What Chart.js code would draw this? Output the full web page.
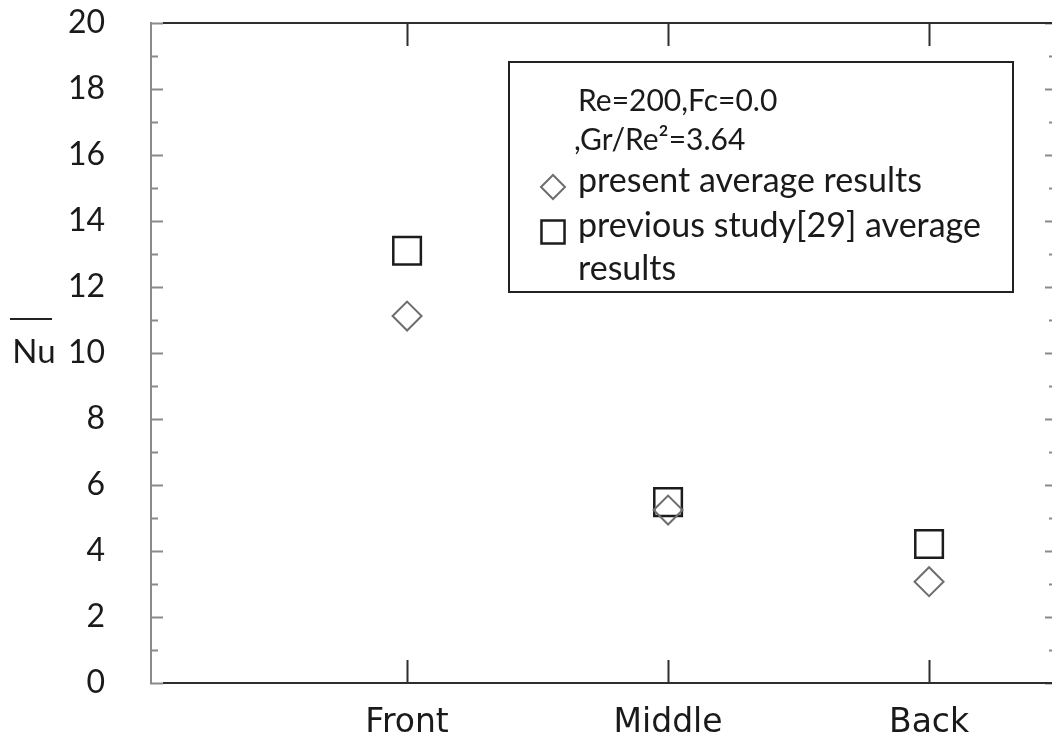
<!DOCTYPE html>
<html lang="en">
<head>
  <meta charset="UTF-8" />
  <title>Average Nu</title>
  <style>
    html, body { margin: 0; padding: 0; background: #fff; overflow: hidden; }
    #wrap { width: 1052px; height: 740px; position: relative; }
  </style>
</head>
<body>
  <div id="wrap"><canvas id="chart"></canvas></div>

  <script src="https://cdn.jsdelivr.net/npm/chart.js"></script>
  <script>
    const categories = ['Front', 'Middle', 'Back'];
    const presentAvg = [11.12, 5.24, 3.07];
    const previousAvg = [13.1, 5.48, 4.21];
    const yTicks = [0, 2, 4, 6, 8, 10, 12, 14, 16, 18, 20];
    const legendTitle = ['Re=200,Fc=0.0', ',Gr/Re\u00b2=3.64'];
    const presentLabel = ['present average results'];
    const previousLabel = ['previous study[29] average', 'results'];
    const yTitle = 'Nu';

    const textColor = '#1a1a1a';
    const calibriLike = "Lato, 'Open Sans', sans-serif";

    const toPoints = vals => vals.map((v, i) => ({ x: i + 1, y: v }));

    // axes box, inward ticks, y title with overbar
    const frame = {
      id: 'frame',
      beforeDatasetsDraw(chart) {
        const { ctx, chartArea: a, scales: { x, y } } = chart;
        ctx.save();
        ctx.lineCap = 'butt';

        ctx.strokeStyle = '#8a8a8a';
        ctx.lineWidth = 2;
        ctx.beginPath();
        ctx.moveTo(a.left + 1, a.top - 1);
        ctx.lineTo(a.left + 1, a.bottom + 1);
        for (let v = 0; v <= 20; v++) {
          const py = Math.round(y.getPixelForValue(v)) + 0.5;
          const major = v % 2 === 0;
          ctx.moveTo(a.left, py);
          ctx.lineTo(a.left + (major ? 13 : 8), py);
          ctx.moveTo(a.right, py);
          ctx.lineTo(a.right - (major ? 7 : 3), py);
        }
        ctx.stroke();

        ctx.strokeStyle = '#2e2e2e';
        ctx.beginPath();
        ctx.moveTo(a.left + 13, a.top);
        ctx.lineTo(a.right, a.top);
        ctx.moveTo(a.left + 13, a.bottom);
        ctx.lineTo(a.right, a.bottom);
        categories.forEach((c, i) => {
          const px = Math.round(x.getPixelForValue(i + 1)) + 0.5;
          ctx.moveTo(px, a.top);
          ctx.lineTo(px, a.top + 23);
          ctx.moveTo(px, a.bottom);
          ctx.lineTo(px, a.bottom - 23);
        });
        ctx.stroke();

        // y title, Nu with an overbar
        ctx.fillStyle = textColor;
        ctx.font = "33px " + calibriLike;
        ctx.textAlign = 'center';
        ctx.textBaseline = 'alphabetic';
        ctx.fillText(yTitle, 34, 363);
        ctx.strokeStyle = '#222';
        ctx.lineWidth = 2;
        ctx.beginPath();
        ctx.moveTo(10, 319);
        ctx.lineTo(52, 319);
        ctx.stroke();
        ctx.restore();
      }
    };

    // boxed legend inside the plot
    const boxLegend = {
      id: 'boxLegend',
      afterDatasetsDraw(chart) {
        const { ctx, chartArea: a } = chart;
        const bx = a.left + 359, by = a.top + 39, bw = 504, bh = 230;
        ctx.save();
        ctx.fillStyle = '#fff';
        ctx.fillRect(bx, by, bw, bh);
        ctx.strokeStyle = '#222';
        ctx.lineWidth = 2;
        ctx.strokeRect(bx, by, bw, bh);

        ctx.fillStyle = textColor;
        ctx.textAlign = 'left';
        ctx.textBaseline = 'alphabetic';
        const tx = bx + 69;
        ctx.font = "30px " + calibriLike;
        ctx.fillText(legendTitle[0], tx, by + 49);
        ctx.fillText(legendTitle[1], tx - 4, by + 88);
        ctx.font = "34px " + calibriLike;
        ctx.fillText(presentLabel[0], tx, by + 130);
        ctx.fillText(previousLabel[0], tx, by + 175);
        ctx.fillText(previousLabel[1], tx, by + 218);

        const ds = chart.data.datasets;
        [[ds[0], 12, 125], [ds[1], 16.3, 170]].forEach(([d, r, dy]) => {
          ctx.fillStyle = '#fff';
          ctx.strokeStyle = d.borderColor;
          ctx.lineWidth = d.borderWidth;
          Chart.helpers.drawPoint(ctx, { pointStyle: d.pointStyle, radius: r, rotation: 0, borderWidth: d.borderWidth }, bx + 44, by + dy);
        });
        ctx.restore();
      }
    };

    const ctx = document.getElementById('chart').getContext('2d');

    new Chart(ctx, {
      type: 'scatter',
      data: {
        datasets: [
          {
            label: presentLabel.join(' '),
            data: toPoints(presentAvg),
            pointStyle: 'rectRot',
            pointRadius: 14.5,
            borderColor: '#6e6e6e',
            backgroundColor: 'rgba(0,0,0,0)',
            borderWidth: 2
          },
          {
            label: previousLabel.join(' '),
            data: toPoints(previousAvg),
            pointStyle: 'rect',
            pointRadius: 19.5,
            borderColor: '#1c1c1c',
            backgroundColor: 'rgba(0,0,0,0)',
            borderWidth: 2.5
          }
        ]
      },
      options: {
        responsive: true,
        maintainAspectRatio: false,
        animation: false,
        layout: { autoPadding: false, padding: { top: 23, right: 0, left: 0, bottom: 0 } },
        plugins: {
          legend: { display: false },
          tooltip: { enabled: false }
        },
        scales: {
          x: {
            type: 'linear',
            min: 0.015,
            max: 3.471,
            afterBuildTicks: s => { s.ticks = categories.map((c, i) => ({ value: i + 1 })); },
            afterFit: s => { s.height = 57; s.paddingLeft = 0; s.paddingRight = 0; },
            grid: { display: false },
            border: { display: false },
            ticks: {
              color: textColor,
              padding: 13,
              maxRotation: 0,
              autoSkip: false,
              font: { family: "'DejaVu Sans', sans-serif", size: 33 },
              callback: v => categories[v - 1] ?? ''
            }
          },
          y: {
            min: 0,
            max: 20,
            afterBuildTicks: s => { s.ticks = yTicks.map(v => ({ value: v })); },
            afterFit: s => { s.width = 150; s.paddingTop = 0; s.paddingBottom = 0; },
            grid: { display: false },
            border: { display: false },
            ticks: {
              color: textColor,
              padding: 37,
              font: { family: calibriLike, size: 32 }
            }
          }
        }
      },
      plugins: [frame, boxLegend]
    });
  </script>
</body>
</html>
